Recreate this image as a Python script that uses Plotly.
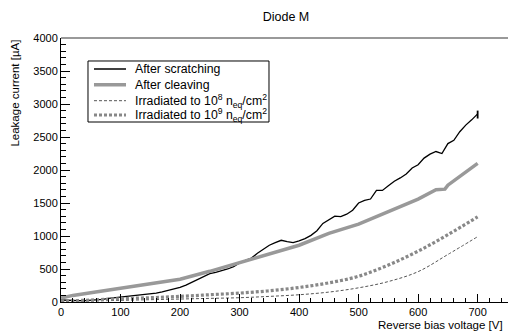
import plotly.graph_objects as go

voltage_fine = list(range(0, 701, 10))
after_scratching = [30, 25, 20, 20, 22, 25, 30, 40, 55, 65,
                    75, 85, 92, 100, 108, 118, 135, 155, 175, 195,
                    222, 255, 300, 345, 395, 430, 450, 470, 500, 535,
                    590, 630, 665, 740, 800, 860, 900, 935, 915, 900,
                    925, 960, 1010, 1080, 1190, 1240, 1300, 1295, 1330, 1390,
                    1500, 1540, 1560, 1690, 1690, 1760, 1830, 1880, 1940, 2030,
                    2080, 2180, 2240, 2280, 2250, 2400, 2450, 2580, 2680, 2760,
                    2850]
# uncertainty seen only on the final point of the scratching curve
scratch_err_plus = [0] * 70 + [50]
scratch_err_minus = [0] * 70 + [70]

voltage_coarse = [0, 20, 50, 100, 150, 200, 250, 300, 350, 400, 450, 500,
                  550, 600, 630, 645, 650, 700]
after_cleaving = [60, 100, 140, 205, 270, 345, 465, 595, 720, 860, 1040, 1180,
                  1370, 1560, 1700, 1710, 1770, 2100]

voltage_irr = [0, 50, 100, 150, 200, 250, 300, 350, 400, 450, 500, 550, 600, 650, 700]
irradiated_1e8 = [5, 15, 25, 35, 45, 55, 65, 85, 110, 150, 215, 310, 460, 720, 990]
irradiated_1e9 = [10, 30, 50, 65, 85, 110, 135, 170, 220, 290, 390, 560, 770, 1020, 1290]

names = ["After scratching", "After cleaving",
         "Irradiated to 10<sup>8</sup> n<sub>eq</sub>/cm<sup>2</sup>",
         "Irradiated to 10<sup>9</sup> n<sub>eq</sub>/cm<sup>2</sup>"]

styles = [dict(color="black", width=1.3),
          dict(color="#999999", width=3.5),
          dict(color="#555555", width=1, dash="3px,2px"),
          dict(color="#888888", width=3.2, dash="3px,2px")]

fig = go.Figure()
fig.add_trace(go.Scatter(x=voltage_fine, y=after_scratching, mode="lines", name=names[0],
                         line=styles[0],
                         error_y=dict(type="data", array=scratch_err_plus,
                                      arrayminus=scratch_err_minus, width=0,
                                      thickness=1.8, color="black")))
fig.add_trace(go.Scatter(x=voltage_coarse, y=after_cleaving, mode="lines", name=names[1],
                         line=styles[1]))
fig.add_trace(go.Scatter(x=voltage_irr, y=irradiated_1e8, mode="lines", name=names[2],
                         line=styles[2], line_shape="spline"))
fig.add_trace(go.Scatter(x=voltage_irr, y=irradiated_1e9, mode="lines", name=names[3],
                         line=styles[3], line_shape="spline"))

font = "Liberation Sans, Arial, Helvetica, sans-serif"

# Manual ROOT-style legend box (paper coordinates)
legend_rows_y = [0.8826, 0.8231, 0.7625, 0.7083]
shapes = [dict(type="line", xref="paper", yref="paper", x0=0, x1=1, y0=1, y1=1,
               line=dict(color="#777777", width=1.5)),
          dict(type="rect", xref="paper", yref="paper", x0=0.0604, x1=0.4653,
               y0=0.6818, y1=0.9129, line=dict(color="black", width=1),
               fillcolor="white", layer="above")]
annotations = [
    dict(text="Leakage current [µA]", textangle=-90, xref="paper", yref="paper",
         x=-0.105, y=1.0, xanchor="center", yanchor="top", showarrow=False,
         font=dict(size=11.5, family=font)),
    dict(text="Reverse bias voltage [V]", xref="paper", yref="paper",
         x=0.993, y=-0.087, xanchor="right", yanchor="middle", showarrow=False,
         font=dict(size=11.5, family=font)),
]
for name, style, ry in zip(names, styles, legend_rows_y):
    shapes.append(dict(type="line", xref="paper", yref="paper", x0=0.0738, x1=0.1454,
                       y0=ry, y1=ry, line=style, layer="above"))
    annotations.append(dict(text=name, xref="paper", yref="paper", x=0.1600, y=ry,
                            xanchor="left", yanchor="middle", showarrow=False,
                            font=dict(size=12.3, family=font)))

fig.update_layout(
    width=508, height=332,
    margin=dict(l=61, r=0, t=38, b=30, autoexpand=False),
    plot_bgcolor="white", paper_bgcolor="white",
    font=dict(family=font, size=11, color="black"),
    title=dict(text="Diode M", x=0.563, xref="container", y=0.949, yref="container",
               xanchor="center", yanchor="middle", font=dict(size=12.5, family=font),
               automargin=False),
    showlegend=False,
    hovermode=False,
    xaxis=dict(range=[0, 751], showgrid=False, zeroline=False, automargin=False,
               showline=True, linecolor="black", linewidth=1,
               ticks="inside", ticklen=8, tickcolor="black", dtick=100, tick0=0,
               minor=dict(ticks="inside", ticklen=4, dtick=20, tickcolor="black"),
               tickfont=dict(size=11)),
    yaxis=dict(range=[0, 4000], showgrid=False, zeroline=False, automargin=False,
               showline=True, linecolor="black", linewidth=1,
               ticks="inside", ticklen=9, tickcolor="black", dtick=500, tick0=0,
               minor=dict(ticks="inside", ticklen=5, dtick=100, tickcolor="black"),
               tickfont=dict(size=11)),
    annotations=annotations,
    shapes=shapes,
)

fig.write_html("out.html", config={"displayModeBar": False, "staticPlot": True},
               post_script="document.body.style.margin='0';document.body.style.overflow='hidden';")
